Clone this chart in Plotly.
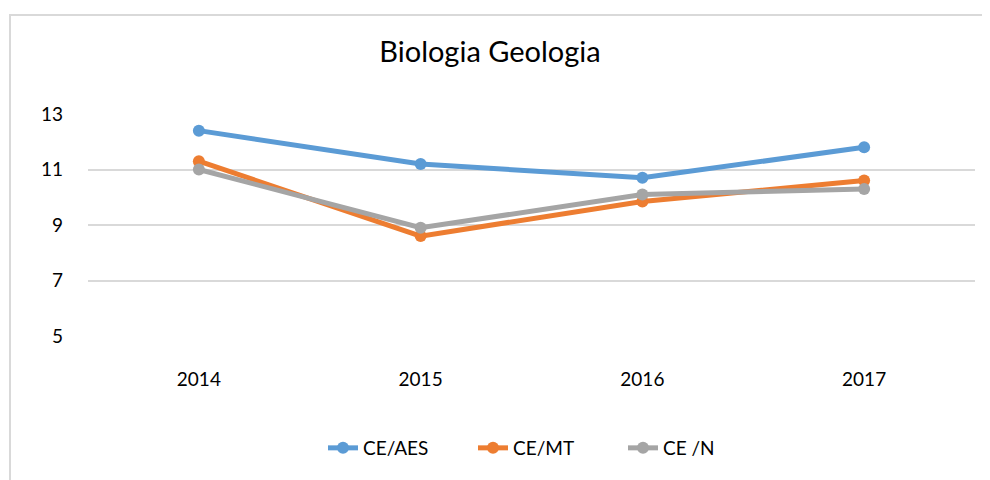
import plotly.graph_objects as go

years = ["2014", "2015", "2016", "2017"]
ce_aes = [12.4, 11.2, 10.7, 11.8]
ce_mt = [11.3, 8.6, 9.85, 10.6]
ce_n = [11.0, 8.9, 10.1, 10.3]
series_names = ["CE/AES", "CE/MT", "CE /N"]
colors = ["#5B9BD5", "#ED7D31", "#A5A5A5"]
y_ticks = [5, 7, 9, 11, 13]

FONT = "Lato, Calibri, sans-serif"
TXT = "#000000"

fig = go.Figure()
for name, vals, col in zip(series_names, [ce_aes, ce_mt, ce_n], colors):
    fig.add_trace(go.Scatter(
        x=years, y=vals, name=name, mode="lines+markers",
        line=dict(color=col, width=5),
        marker=dict(color=col, size=12),
    ))

OFF = 8  # page body offset
W, H = 982, 472
L, R, T, B = 88 - OFF, 15, 113.5 - OFF, H - (336.5 - OFF)
pw, ph = W - L - R, H - T - B

def px2paper(px, py):
    return (px - OFF - L) / pw, (H - B - (py - OFF)) / ph

x0, y0 = px2paper(10, 14)
x1, y1 = px2paper(1010, 500)

fig.update_layout(
    width=W, height=H,
    margin=dict(l=L, r=R, t=T, b=B),
    paper_bgcolor="white", plot_bgcolor="white",
    font=dict(family=FONT, color=TXT, size=19),
    title=dict(text="Biologia Geologia", x=px2paper(490, 0)[0],
               xanchor="center", xref="paper",
               y=1 - (52 - OFF) / H, yanchor="middle",
               font=dict(family=FONT, size=29, color=TXT)),
    showlegend=True,
    legend=dict(orientation="h", x=px2paper(548, 0)[0], xanchor="center",
                y=(H - B - (449 - OFF)) / ph, yanchor="middle",
                font=dict(family=FONT, size=19, color=TXT),
                entrywidth=105, entrywidthmode="pixels"),
    xaxis=dict(type="category", range=[-0.5, 3.5], showgrid=False,
               showline=False, zeroline=False, ticks="",
               ticklabelstandoff=30,
               tickfont=dict(family=FONT, size=19, color=TXT)),
    yaxis=dict(range=[5, 13], tickvals=y_ticks, showgrid=True,
               gridcolor="#D9D9D9", gridwidth=1.5, zeroline=False,
               showline=False, ticks="", ticklabelstandoff=24,
               tickfont=dict(family=FONT, size=19, color=TXT)),
    shapes=[dict(type="rect", xref="paper", yref="paper",
                 x0=x0, y0=y1, x1=x1, y1=y0,
                 line=dict(color="#D9D9D9", width=2), layer="below")],
)

fig.write_html("out.html")
